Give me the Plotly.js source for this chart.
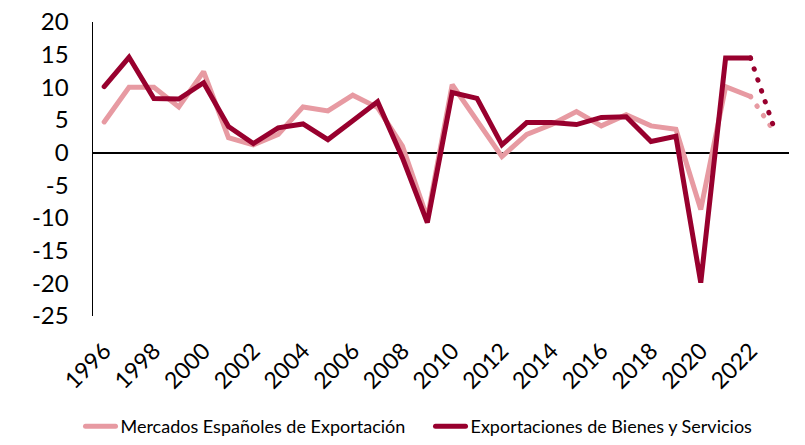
<!DOCTYPE html>
<html>
<head>
<meta charset="utf-8">
<script src="https://cdn.plot.ly/plotly-3.0.1.min.js"></script>
<style>
  html, body { margin: 0; padding: 0; background: #fff; }
  #chart { width: 805px; height: 445px; }
  path.js-line { stroke-linecap: round !important; }
</style>
</head>
<body>
<div id="chart"></div>
<script>
const years = [1996,1997,1998,1999,2000,2001,2002,2003,2004,2005,2006,2007,2008,2009,2010,2011,2012,2013,2014,2015,2016,2017,2018,2019,2020,2021,2022];
const mercados = [4.7,10.0,10.0,7.0,12.4,2.3,1.2,2.8,7.0,6.4,8.8,6.9,1.0,-10.0,10.4,5.0,-0.6,2.8,4.3,6.3,4.1,5.8,4.1,3.6,-8.7,10.1,8.6];
const exportaciones = [10.1,14.6,8.3,8.2,10.7,4.0,1.4,3.8,4.4,2.0,4.9,7.8,-0.8,-10.7,9.2,8.3,1.2,4.6,4.6,4.3,5.4,5.5,1.7,2.5,-19.9,14.5,14.5];
const projYears = [2022, 2023];
const mercadosProj = [8.6, 3.0];
const exportacionesProj = [14.5, 3.2];
const yTicks = [20,15,10,5,0,-5,-10,-15,-20,-25];
const xTicks = [1996,1998,2000,2002,2004,2006,2008,2010,2012,2014,2016,2018,2020,2022];
const names = ['Mercados Españoles de Exportación', 'Exportaciones de Bienes y Servicios'];
const colPink = '#e79aa2';
const colDark = '#98002e';

const traces = [
  {x: years, y: mercados, mode: 'lines', name: names[0], line: {color: colPink, width: 5}},
  {x: years, y: exportaciones, mode: 'lines', name: names[1], line: {color: colDark, width: 5}},
  {x: projYears, y: mercadosProj, mode: 'lines', showlegend: false, line: {color: colPink, width: 5, dash: '0.5px,11px'}},
  {x: projYears, y: exportacionesProj, mode: 'lines', showlegend: false, line: {color: colDark, width: 5, dash: '0.5px,11px'}}
];

const font = "Lato, 'Open Sans', sans-serif";
const layout = {
  width: 805, height: 445,
  margin: {l: 93, r: 16, t: 22, b: 129, autoexpand: false},
  paper_bgcolor: '#fff', plot_bgcolor: '#fff',
  font: {family: font, color: '#000'},
  hovermode: false,
  showlegend: true,
  legend: {orientation: 'h', xref: 'container', x: 0.1, xanchor: 'left', yref: 'container', y: -0.025, yanchor: 'bottom',
           entrywidth: 305, font: {size: 18, family: font, color: '#000'}, tracegroupgap: 0},
  xaxis: {
    range: [1995.55, 2023.55], tickmode: 'array', tickvals: xTicks, ticktext: xTicks.map(String), automargin: false,
    tickangle: -45, tickfont: {size: 23, family: font}, showgrid: false, zeroline: false, showline: false,
    ticks: '', ticklabelstandoff: 16
  },
  yaxis: {
    range: [-25, 20], tickmode: 'array', tickvals: yTicks, ticktext: yTicks.map(String), automargin: false,
    tickfont: {size: 24, family: font}, showgrid: false, zeroline: true, zerolinecolor: '#000', zerolinewidth: 2,
    showline: true, linecolor: '#000', linewidth: 1.5, ticks: '', ticklabelstandoff: 18
  }
};
Plotly.newPlot('chart', traces, layout, {displayModeBar: false, staticPlot: true});
</script>
</body>
</html>
